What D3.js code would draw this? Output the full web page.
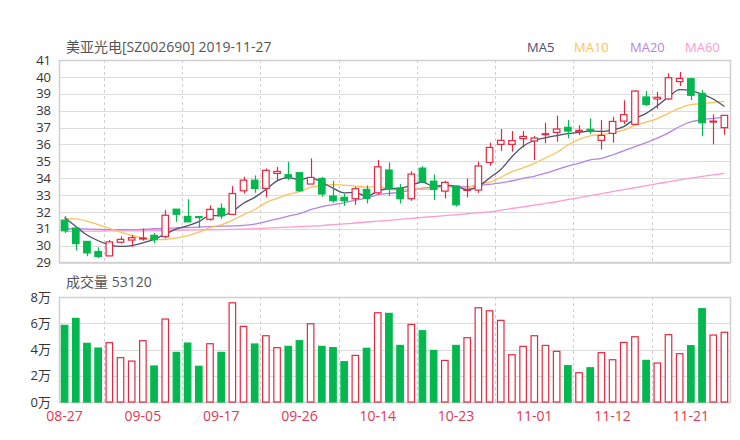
<!doctype html>
<html>
<head>
<meta charset="UTF-8">
<script src="https://d3js.org/d3.v7.min.js"></script>
<style>
  body { margin: 0; background: #fff; }
  text { font-family: "Open Sans", "Noto Sans CJK SC", sans-serif; }
</style>
</head>
<body>
<script>
  // data
  var dates = ["08-27","08-28","08-29","08-30","09-02","09-03","09-04","09-05","09-06","09-09",
    "09-10","09-11","09-12","09-16","09-17","09-18","09-19","09-20","09-23","09-24",
    "09-25","09-26","09-27","09-30","10-08","10-09","10-10","10-11","10-14","10-15",
    "10-16","10-17","10-18","10-21","10-22","10-23","10-24","10-25","10-28","10-29",
    "10-30","10-31","11-01","11-04","11-05","11-06","11-07","11-08","11-11","11-12",
    "11-13","11-14","11-15","11-18","11-19","11-20","11-21","11-22","11-25","11-26"]
  var open = [31.51,31.04,30.25,29.65,29.39,30.20,30.33,30.41,30.61,30.53,
    32.16,31.73,31.72,31.56,32.21,31.85,33.25,33.88,33.39,34.28,
    34.20,34.32,33.65,33.98,32.94,32.86,32.78,33.33,33.13,34.48,
    33.41,32.78,34.59,33.82,33.23,33.53,33.29,33.29,34.93,36.00,
    36.00,36.34,36.20,36.59,36.71,37.01,36.75,36.89,36.24,36.65,
    37.38,37.19,38.81,38.69,38.69,39.72,39.89,39.02,37.34,36.99]
  var high = [31.76,31.04,30.25,29.90,30.33,30.55,30.63,31.00,30.75,32.12,
    32.16,32.75,31.75,32.38,32.50,33.53,34.08,34.16,34.57,34.67,
    34.97,34.32,35.17,34.08,33.84,33.06,33.49,33.57,35.07,34.93,
    33.65,34.40,34.71,34.22,33.84,33.57,33.98,34.97,36.10,36.91,
    36.79,36.79,36.49,37.28,37.70,37.44,37.13,37.54,37.44,37.64,
    38.61,39.22,39.16,39.12,40.21,40.29,39.95,39.22,37.78,37.72]
  var low = [30.75,29.71,29.37,29.27,29.39,30.14,29.94,30.29,30.16,30.43,
    31.41,31.41,31.05,31.48,31.58,31.85,33.09,33.13,32.86,33.88,
    33.88,33.19,33.65,32.90,32.54,32.36,32.42,32.50,33.02,32.94,
    32.50,32.66,33.72,32.70,32.80,32.31,32.86,33.13,34.73,35.62,
    35.57,35.82,35.07,36.06,36.16,36.36,36.55,36.61,35.70,36.10,
    37.20,37.19,38.27,38.11,38.63,39.46,38.63,36.49,36.00,36.57]
  var close = [30.88,30.12,29.57,29.35,30.22,30.37,30.47,30.45,30.35,31.80,
    31.86,31.41,31.68,32.15,31.77,33.09,33.88,33.39,34.46,34.40,
    34.02,33.25,34.04,33.06,32.66,32.66,33.37,32.80,34.67,33.37,
    32.78,34.24,33.78,33.33,33.75,32.42,33.33,34.72,35.82,36.24,
    36.22,36.47,36.38,36.63,36.91,36.79,36.83,36.77,36.53,37.36,
    37.76,39.16,38.37,38.79,39.95,39.91,38.91,37.28,37.38,37.72]
  var volume = [58400,63700,44700,41100,45200,33800,31200,46700,27400,63200,
    37800,44900,27200,44400,37800,75600,57600,44200,50500,41400,
    42400,46700,59600,42400,41400,30700,35500,40900,68000,67500,
    43100,59100,54300,39300,31700,43100,49000,71800,69500,62200,
    36000,42400,50500,43100,38600,27700,22300,26100,37600,32200,
    45400,49700,31700,29700,51300,36800,42900,71100,51000,53120]
  var ma5 = [31.67,31.14,30.63,30.29,30.05,29.95,30.00,30.17,30.37,30.69,
    30.99,31.17,31.42,31.78,31.77,32.02,32.51,32.86,33.32,33.84,
    34.03,33.90,34.03,33.75,33.41,33.13,33.16,32.91,33.23,33.37,
    33.40,33.57,33.77,33.50,33.58,33.50,33.32,33.51,34.01,34.51,
    35.27,35.89,36.23,36.39,36.52,36.64,36.71,36.79,36.77,36.86,
    37.05,37.52,37.84,38.29,38.81,39.24,39.19,38.97,38.69,38.24]
  var ma10 = [31.60,31.58,31.45,31.25,31.03,30.80,30.60,30.45,30.37,30.36,
    30.46,30.59,30.80,31.07,31.23,31.50,31.84,32.14,32.55,32.80,
    33.03,33.20,33.45,33.54,33.62,33.58,33.53,33.47,33.49,33.39,
    33.27,33.37,33.34,33.37,33.48,33.45,33.45,33.64,33.76,34.05,
    34.39,34.61,34.87,35.20,35.52,35.96,36.30,36.51,36.58,36.69,
    36.85,37.12,37.32,37.53,37.84,38.15,38.36,38.41,38.49,38.53]
  var ma20 = [31.00,31.00,30.98,30.96,30.95,30.95,30.95,30.97,31.00,31.02,
    31.05,31.07,31.10,31.12,31.15,31.17,31.20,31.28,31.42,31.58,
    31.75,31.89,32.13,32.31,32.43,32.54,32.69,32.81,33.02,33.10,
    33.15,33.29,33.40,33.46,33.55,33.52,33.49,33.56,33.63,33.72,
    33.83,33.99,34.11,34.29,34.50,34.71,34.88,35.08,35.17,35.37,
    35.62,35.87,36.10,36.37,36.68,37.06,37.33,37.46,37.54,37.61]
  var ma60 = [30.85,30.85,30.86,30.86,30.87,30.87,30.88,30.88,30.89,30.90,
    30.91,30.92,30.93,30.94,30.95,30.96,30.98,31.01,31.04,31.07,
    31.10,31.13,31.16,31.19,31.24,31.29,31.34,31.40,31.45,31.50,
    31.56,31.61,31.67,31.72,31.78,31.83,31.89,31.95,32.00,32.10,
    32.20,32.30,32.40,32.50,32.60,32.72,32.84,32.96,33.08,33.20,
    33.32,33.43,33.55,33.67,33.78,33.90,34.00,34.10,34.19,34.28]
  var priceTicks = d3.range(29, 42)
  var volTicks = [0, 20000, 40000, 60000, 80000]
  var maNames = ["MA5", "MA10", "MA20", "MA60"]

  var width = 740, height = 440
  var left = 59, right = 730
  var red = "#e5283f", green = "#04b84f"
  var maColors = ["#4d4d70", "#fdc25a", "#b384e8", "#ff9bcd"]

  var svg = d3.select("body").append("svg")
    .attr("width", width)
    .attr("height", height)

  var x = d3.scaleBand().domain(d3.range(dates.length)).range([left, right])
  var y = d3.scaleLinear().domain([29, 41]).range([262.5, 60])
  var yv = d3.scaleLinear().domain([0, 80000]).range([402, 297])
  var cx = i => x(i) + x.bandwidth() / 2
  var bodyW = 6.5

  // grid
  function grid(scale, ticks, top, bottom) {
    svg.append("g").selectAll("line")
      .data(ticks)
      .enter().append("line")
      .attr("x1", left).attr("x2", right)
      .attr("y1", d => Math.round(scale(d)) + 0.5)
      .attr("y2", d => Math.round(scale(d)) + 0.5)
      .attr("stroke", "#dcdcdc")
    var splits = d3.range(4, dates.length, 7)
    svg.append("g").selectAll("line")
      .data(splits)
      .enter().append("line")
      .attr("x1", d => Math.round(x(d)) + 0.5).attr("x2", d => Math.round(x(d)) + 0.5)
      .attr("y1", top).attr("y2", bottom)
      .attr("stroke", "#cfcfcf")
      .attr("stroke-dasharray", "3,3")
    svg.append("rect")
      .attr("x", left + 0.5).attr("y", top + 0.5)
      .attr("width", right - left).attr("height", bottom - top)
      .attr("fill", "none")
      .attr("stroke", "#d0d0d0")
      .attr("stroke-width", 1.5)
  }
  grid(y, priceTicks, 60, 262)
  grid(yv, volTicks, 297, 402)

  // y labels
  svg.append("g").selectAll("text")
    .data(priceTicks)
    .enter().append("text")
    .text(d => d)
    .attr("x", 51)
    .attr("y", d => y(d))
    .attr("dy", "0.36em")
    .attr("text-anchor", "end")
    .style("font-size", "13px")
    .style("fill", "#333")

  svg.append("g").selectAll("text")
    .data(volTicks)
    .enter().append("text")
    .text(d => (d / 10000) + "万")
    .attr("x", 51)
    .attr("y", d => yv(d))
    .attr("dy", "0.36em")
    .attr("text-anchor", "end")
    .style("font-size", "13px")
    .style("fill", "#333")

  // x labels
  svg.append("g").selectAll("text")
    .data(d3.range(0, dates.length, 7))
    .enter().append("text")
    .text(d => dates[d])
    .attr("x", d => cx(d))
    .attr("y", 421)
    .attr("text-anchor", "middle")
    .style("font-size", "14px")
    .style("fill", "#e33752")

  // titles
  svg.append("text")
    .text("美亚光电[SZ002690] 2019-11-27")
    .attr("x", 66).attr("y", 52)
    .style("font-size", "14px")
    .style("fill", "#555")

  svg.append("text")
    .text("成交量 " + volume[volume.length - 1])
    .attr("x", 66).attr("y", 287)
    .style("font-size", "14px")
    .style("fill", "#555")

  var legendX = [527, 574, 630, 685]
  svg.append("g").selectAll("text")
    .data(maNames)
    .enter().append("text")
    .text(d => d)
    .attr("x", (d, i) => legendX[i])
    .attr("y", 52)
    .style("font-size", "13px")
    .style("fill", (d, i) => maColors[i])

  // MA lines
  var mas = [ma5, ma10, ma20, ma60]
  var line = d3.line()
    .x((d, i) => cx(i))
    .y(d => y(d))
    .curve(d3.curveMonotoneX)
  mas.slice().reverse().forEach((m, k) => {
    svg.append("path")
      .attr("d", line(m))
      .attr("fill", "none")
      .attr("stroke", maColors[3 - k])
      .attr("stroke-width", 1.3)
  })

  // candles
  var up = i => close[i] >= open[i]
  var idx = d3.range(dates.length)
  var candle = svg.append("g").selectAll("g")
    .data(idx)
    .enter().append("g")

  candle.append("line")
    .attr("x1", d => Math.round(cx(d)) + 0.5)
    .attr("x2", d => Math.round(cx(d)) + 0.5)
    .attr("y1", d => y(high[d]))
    .attr("y2", d => y(low[d]))
    .attr("stroke", d => up(d) ? red : green)
    .attr("stroke-width", 1.2)

  candle.append("rect")
    .attr("x", d => cx(d) - bodyW / 2)
    .attr("y", d => y(Math.max(open[d], close[d])))
    .attr("width", bodyW)
    .attr("height", d => Math.max(1, Math.abs(y(open[d]) - y(close[d]))))
    .attr("fill", d => up(d) ? "#fff" : green)
    .attr("stroke", d => up(d) ? red : green)
    .attr("stroke-width", 1.2)

  // volume bars
  svg.append("g").selectAll("rect")
    .data(idx)
    .enter().append("rect")
    .attr("x", d => cx(d) - bodyW / 2)
    .attr("y", d => yv(volume[d]))
    .attr("width", bodyW)
    .attr("height", d => yv(0) - yv(volume[d]))
    .attr("fill", d => up(d) ? "#fff" : green)
    .attr("stroke", d => up(d) ? red : green)
    .attr("stroke-width", 1.2)
</script>
</body>
</html>
